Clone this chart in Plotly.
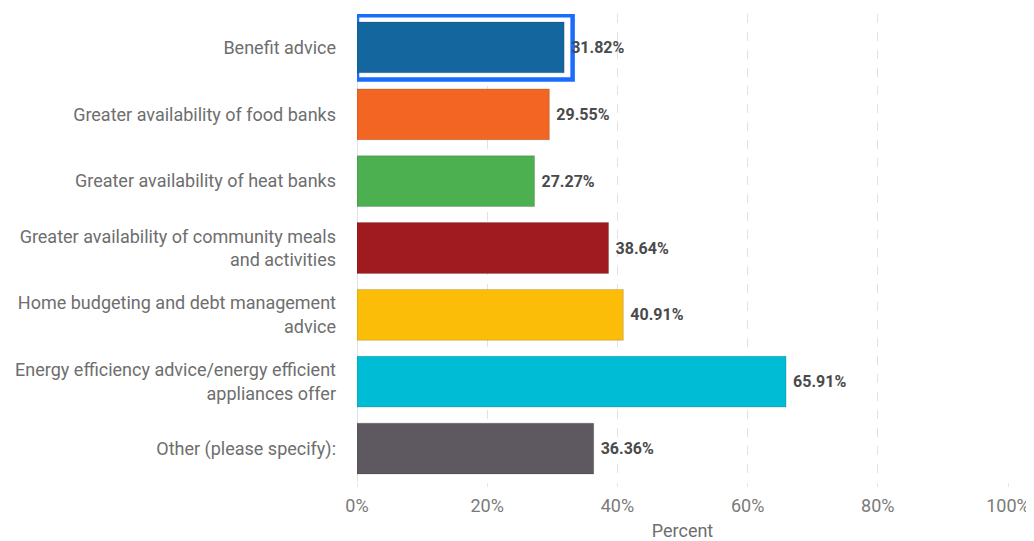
import plotly.graph_objects as go

categories = [
    "Benefit advice",
    "Greater availability of food banks",
    "Greater availability of heat banks",
    "Greater availability of community meals<br>and activities",
    "Home budgeting and debt management<br>advice",
    "Energy efficiency advice/energy efficient<br>appliances offer",
    "Other (please specify):",
]
values = [31.82, 29.55, 27.27, 38.64, 40.91, 65.91, 36.36]
colors = ["#14679e", "#f26522", "#4caf50", "#a01b1f", "#fbbd08", "#00bcd4", "#5e5960"]
tick_vals = [0, 20, 40, 60, 80, 100]
tick_text = ["0%", "20%", "40%", "60%", "80%", "100%"]

highlight_index = 0

fig = go.Figure()

# highlight outline around the selected bar
fig.add_trace(go.Bar(
    y=[categories[highlight_index]],
    x=[values[highlight_index] + 1.3],
    orientation="h",
    width=0.96,
    marker=dict(color="white", line=dict(color="#1a6cff", width=4.5)),
    hoverinfo="skip",
    showlegend=False,
))

fig.add_trace(go.Bar(
    y=categories,
    x=values,
    orientation="h",
    width=0.76,
    marker=dict(color=colors, line=dict(color="rgba(0,0,0,0.15)", width=1)),
    text=[f" {v:.2f}%" for v in values],
    textposition="outside",
    cliponaxis=False,
    textfont=dict(family="Roboto", size=16, color="#4a4a4a", weight="bold"),
    showlegend=False,
))

fig.update_layout(
    width=1026,
    height=533,
    barmode="overlay",
    plot_bgcolor="white",
    paper_bgcolor="white",
    margin=dict(l=349, r=26, t=6, b=59),
    font=dict(family="Roboto", size=18, color="#6e6e6e"),
    xaxis=dict(
        range=[0, 100],
        tickvals=tick_vals,
        ticktext=tick_text,
        showgrid=True,
        gridcolor="#e2e2e2",
        griddash="dash",
        gridwidth=1,
        zeroline=True,
        zerolinecolor="#dde3ee",
        zerolinewidth=1,
        ticks="outside",
        ticklen=4,
        tickcolor="#e6e6e6",
        ticklabelstandoff=3,
        tickfont=dict(family="Roboto", size=18, color="#7a7a7a"),
        title=dict(text="Percent", font=dict(family="Roboto", size=18, color="#6e6e6e"), standoff=12),
        automargin=False,
        fixedrange=True,
    ),
    yaxis=dict(
        categoryorder="array",
        categoryarray=categories,
        autorange="reversed",
        showgrid=False,
        ticks="",
        ticklabelstandoff=20,
        tickfont=dict(family="Roboto", size=18, color="#6e6e6e"),
        automargin=False,
        fixedrange=True,
    ),
)

fig.write_html("out.html")
